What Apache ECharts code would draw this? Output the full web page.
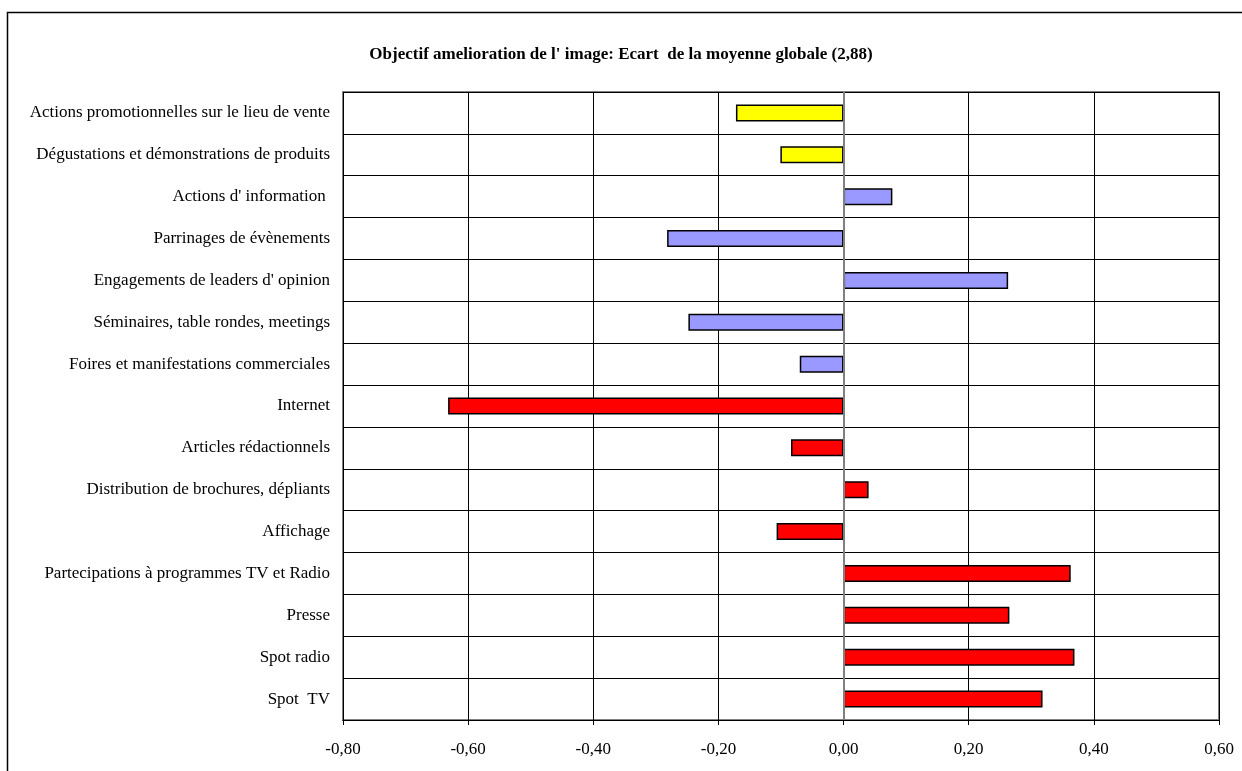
<!DOCTYPE html>
<html>
<head>
<meta charset="utf-8">
<script src="https://cdn.jsdelivr.net/npm/echarts@6/dist/echarts.min.js"></script>
<style>
html,body{margin:0;padding:0;background:#fff;}
#chart{width:1242px;height:771px;}
</style>
</head>
<body>
<div id="chart"></div>
<script>
var categories = [
  "Actions promotionnelles sur le lieu de vente",
  "Dégustations et démonstrations de produits",
  "Actions d' information ",
  "Parrinages de évènements",
  "Engagements de leaders d' opinion",
  "Séminaires, table rondes, meetings",
  "Foires et manifestations commerciales",
  "Internet",
  "Articles rédactionnels",
  "Distribution de brochures, dépliants",
  "Affichage",
  "Partecipations à programmes TV et Radio",
  "Presse",
  "Spot radio",
  "Spot  TV"
];
var values = [-0.172, -0.101, 0.078, -0.282, 0.263, -0.248, -0.070, -0.632, -0.084, 0.040, -0.107, 0.363, 0.265, 0.369, 0.318];
var groups = ["y", "y", "b", "b", "b", "b", "b", "r", "r", "r", "r", "r", "r", "r", "r"];
var groupColors = { y: "#FFFF00", b: "#9999FF", r: "#FF0000" };
var xTicks = { min: -0.8, max: 0.6, interval: 0.2 };
var titleText = "Objectif amelioration de l' image: Ecart  de la moyenne globale (2,88)";

var chart = echarts.init(document.getElementById('chart'), null, { renderer: 'canvas' });
var font = "'Liberation Serif', 'Times New Roman', serif";

chart.setOption({
  backgroundColor: '#ffffff',
  animation: false,
  textStyle: { fontFamily: font },
  title: {
    text: titleText,
    left: 'center',
    top: 41,
    textStyle: { fontFamily: font, fontSize: 17, fontWeight: 'bold', color: '#000' }
  },
  graphic: [{
    type: 'polyline',
    shape: { points: [[7.5, 771], [7.5, 12.5], [1242, 12.5]] },
    style: { stroke: '#000', lineWidth: 1.5, fill: null },
    silent: true
  }],
  grid: {
    left: 343, right: 23, top: 92, bottom: 51,
    show: true, borderColor: '#808080', borderWidth: 2, backgroundColor: 'transparent'
  },
  xAxis: {
    type: 'value',
    min: xTicks.min, max: xTicks.max, interval: xTicks.interval,
    axisLine: { show: true, onZero: false, lineStyle: { color: '#000', width: 1 } },
    axisTick: { show: true, length: 5, lineStyle: { color: '#000' } },
    axisLabel: {
      fontFamily: font, fontSize: 17, color: '#000', margin: 21,
      formatter: function (v) { return v.toFixed(2).replace('.', ','); }
    },
    splitLine: { show: true, lineStyle: { color: '#000', width: 1 } }
  },
  yAxis: {
    type: 'category',
    data: categories,
    inverse: true,
    axisLine: { show: false, onZero: false },
    axisTick: { show: false },
    axisLabel: { fontFamily: font, fontSize: 17, color: '#000', margin: 13 },
    splitLine: { show: true, lineStyle: { color: '#000', width: 1 } }
  },
  series: [{
    type: 'bar',
    barWidth: 17,
    data: values.map(function (v, i) {
      return { value: v, itemStyle: { color: groupColors[groups[i]] } };
    }),
    itemStyle: { borderColor: '#000', borderWidth: 1.5 },
    markLine: {
      silent: true, symbol: 'none', label: { show: false },
      lineStyle: { color: '#808080', width: 2, type: 'solid' },
      data: [{ xAxis: 0 }]
    },
    z: 3
  }]
});
</script>
</body>
</html>
